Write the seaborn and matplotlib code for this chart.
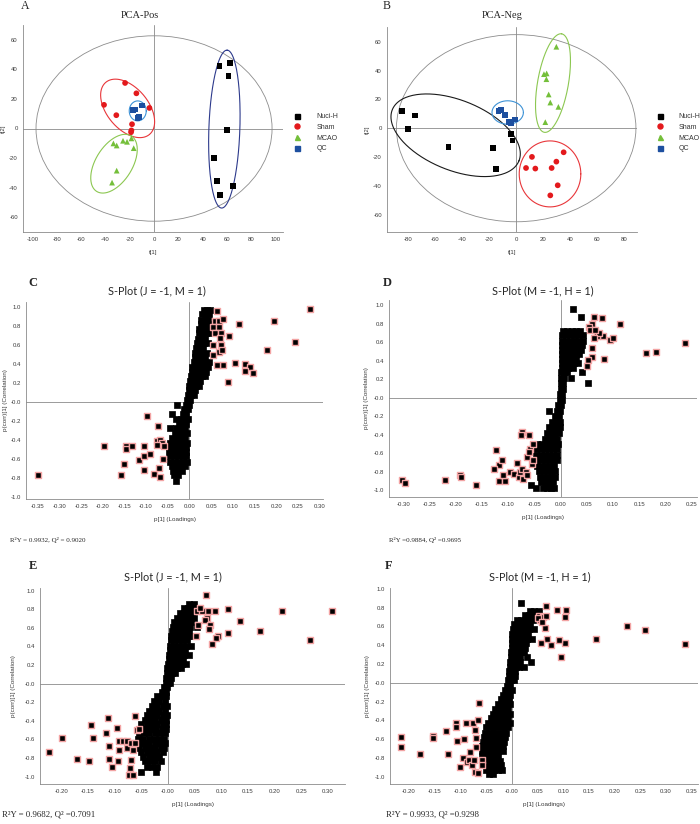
import numpy as np
import pandas as pd
import matplotlib
matplotlib.use("Agg")
import matplotlib.pyplot as plt
import seaborn as sns
from matplotlib import font_manager
from matplotlib.lines import Line2D
from matplotlib.patches import Ellipse
from matplotlib.ticker import MultipleLocator, AutoMinorLocator, FuncFormatter

# ---------------------------------------------------------------
# PCA score data (t[1], t[2])
# ---------------------------------------------------------------
groups = ["Nuci-H", "Sham", "MCAO", "QC"]
group_colors = ["#000000", "#e3191c", "#74bf3a", "#1d4f9f"]
group_markers = ["s", "o", "^", "s"]

pos_nuci_t1 = [53.7, 62.5, 61.1, 60.0, 49.3, 52.0, 64.7, 54.2]
pos_nuci_t2 = [42.2, 44.5, 35.5, -0.9, -20.0, -35.7, -38.7, -45.2]
pos_sham_t1 = [-23.8, -14.5, -41.1, -3.8, -31.0, -18.1, -18.6, -18.9]
pos_sham_t2 = [30.8, 23.8, 16.0, 13.9, 9.0, 2.9, -1.3, -2.5]
pos_mcao_t1 = [-33.4, -30.7, -25.5, -22.2, -18.6, -16.7, -30.7, -34.5]
pos_mcao_t2 = [-10.1, -11.5, -8.3, -9.0, -6.7, -13.3, -28.5, -36.6]
pos_qc_t1 = [-17.5, -15.9, -10.1, -13.7, -12.3]
pos_qc_t2 = [12.4, 12.8, 15.5, 7.2, 7.6]

neg_nuci_t1 = [-84.9, -75.3, -80.0, -50.1, -17.2, -15.0, -4.1, -2.8]
neg_nuci_t2 = [12.0, 8.8, -0.7, -13.2, -13.7, -28.5, -4.2, -8.6]
neg_sham_t1 = [11.7, 35.2, 7.3, 14.2, 26.3, 29.8, 30.8, 25.3]
neg_sham_t2 = [-19.9, -16.7, -27.6, -28.0, -27.6, -23.2, -39.6, -46.6]
neg_mcao_t1 = [29.8, 20.6, 22.6, 22.4, 24.1, 25.3, 31.3, 21.6]
neg_mcao_t2 = [56.5, 37.5, 38.0, 34.0, 23.4, 17.8, 14.8, 4.2]
neg_qc_t1 = [-13.2, -11.5, -8.5, -5.1, -3.6, -1.1]
neg_qc_t2 = [11.8, 12.5, 9.3, 4.2, 3.7, 6.0]

# ---------------------------------------------------------------
# S-plot data: core rows are (p(corr), p1, p1, ...), VIP = pink framed
# ---------------------------------------------------------------
c_core_rows = [
    (0.97, 0.033, 0.041, 0.047), (0.925, 0.030, 0.037, 0.045), (0.87, 0.027, 0.036, 0.043),
    (0.825, 0.026, 0.033, 0.042), (0.77, 0.023, 0.032, 0.040), (0.725, 0.022, 0.029, 0.038, 0.046),
    (0.67, 0.019, 0.028, 0.036), (0.625, 0.018, 0.025, 0.034, 0.042), (0.57, 0.016, 0.024, 0.031),
    (0.52, 0.013, 0.022, 0.030, 0.040), (0.475, 0.012, 0.019, 0.028, 0.036),
    (0.42, 0.010, 0.018, 0.025, 0.034, 0.045), (0.375, 0.007, 0.016, 0.024, 0.031, 0.042),
    (0.32, 0.006, 0.013, 0.022, 0.030, 0.039), (0.27, 0.004, 0.012, 0.019, 0.028, 0.036),
    (0.225, 0.002, 0.010, 0.018, 0.025), (0.17, 0.000, 0.007, 0.016, 0.023),
    (0.125, -0.002, 0.006, 0.013), (0.07, -0.004, 0.004, 0.010), (0.025, -0.006, 0.002),
    (-0.03, -0.008, 0.000, -0.028), (-0.075, -0.012, -0.004), (-0.13, -0.016, -0.008, -0.040),
    (-0.175, -0.020, -0.012, -0.004, -0.032), (-0.23, -0.024, -0.016, -0.008),
    (-0.275, -0.030, -0.020, -0.010, -0.045), (-0.33, -0.034, -0.024, -0.014, -0.006),
    (-0.375, -0.040, -0.030, -0.020, -0.010), (-0.43, -0.044, -0.034, -0.024, -0.014, -0.006),
    (-0.475, -0.047, -0.036, -0.026, -0.016, -0.008), (-0.53, -0.048, -0.038, -0.028, -0.018, -0.008),
    (-0.575, -0.046, -0.036, -0.026, -0.016, -0.008), (-0.63, -0.044, -0.034, -0.024, -0.014, -0.006),
    (-0.675, -0.040, -0.030, -0.020, -0.010), (-0.73, -0.038, -0.028, -0.018),
    (-0.775, -0.036, -0.026), (-0.83, -0.032),
]
c_vip_x = [0.278, 0.195, 0.115, 0.243, 0.178, 0.092, 0.104, 0.078, 0.128, 0.139, 0.128, 0.147, 0.090, 0.064,
           0.063, 0.058, 0.067, 0.077, 0.055, 0.067, 0.059, 0.072, 0.071, 0.055, 0.072, 0.067, 0.055, 0.074,
           -0.349, -0.196, -0.146, -0.146, -0.133, -0.150, -0.158, -0.117, -0.105, -0.105, -0.092, -0.105,
           -0.097, -0.073, -0.081, -0.070, -0.067, -0.076, -0.069, -0.064, -0.075, -0.060, -0.058]
c_vip_y = [0.982, 0.859, 0.820, 0.631, 0.550, 0.698, 0.410, 0.395, 0.399, 0.374, 0.332, 0.304, 0.209, 0.395,
           0.965, 0.859, 0.859, 0.873, 0.796, 0.789, 0.726, 0.726, 0.673, 0.603, 0.603, 0.533, 0.498, 0.550,
           -0.775, -0.459, -0.462, -0.494, -0.469, -0.652, -0.775, -0.610, -0.469, -0.568, -0.550, -0.716,
           -0.146, -0.258, -0.761, -0.698, -0.793, -0.416, -0.399, -0.434, -0.452, -0.603, -0.469]

d_core_rows = [
    (0.96, 0.023), (0.87, 0.038), (0.72, 0.005, 0.013, 0.021, 0.029, 0.037),
    (0.675, 0.003, 0.011, 0.019, 0.027, 0.035, 0.043), (0.62, 0.002, 0.010, 0.018, 0.026, 0.034, 0.042),
    (0.575, 0.002, 0.009, 0.016, 0.024, 0.032, 0.040), (0.52, 0.002, 0.008, 0.015, 0.022, 0.030, 0.038),
    (0.475, 0.002, 0.008, 0.014, 0.021, 0.029, 0.036), (0.42, 0.002, 0.008, 0.014, 0.022, 0.030),
    (0.375, 0.002, 0.008, 0.016, 0.026, 0.034), (0.32, 0.002, 0.008, 0.015, 0.024),
    (0.275, 0.001, 0.007, 0.013, 0.040), (0.22, 0.001, 0.006, 0.020), (0.16, 0.001, 0.005, 0.052),
    (0.10, 0.000, 0.004), (0.04, -0.001, 0.003), (-0.02, -0.002, 0.002), (-0.08, -0.004, 0.000),
    (-0.14, -0.006, -0.001, -0.022), (-0.20, -0.010, -0.003), (-0.26, -0.016, -0.008, -0.002),
    (-0.32, -0.022, -0.014, -0.006, -0.001), (-0.38, -0.026, -0.018, -0.010, -0.003),
    (-0.44, -0.030, -0.022, -0.014, -0.006),
    (-0.50, -0.044, -0.036, -0.028, -0.020, -0.012, -0.005),
    (-0.555, -0.046, -0.038, -0.030, -0.022, -0.014, -0.006),
    (-0.62, -0.046, -0.038, -0.030, -0.022, -0.014, -0.006),
    (-0.675, -0.046, -0.038, -0.030, -0.022, -0.014, -0.007),
    (-0.74, -0.044, -0.036, -0.028, -0.020, -0.012), (-0.795, -0.042, -0.034, -0.026, -0.018, -0.010),
    (-0.86, -0.040, -0.032, -0.024, -0.016, -0.010), (-0.915, -0.038, -0.030, -0.022, -0.014),
    (-0.97, -0.047, -0.034, -0.026, -0.018, -0.012), (-0.946, -0.057),
]
d_vip_x = [0.064, 0.079, 0.113, 0.238, 0.163, 0.182, 0.082, 0.095, 0.099, 0.080, 0.069, 0.073, 0.060, 0.054,
           0.057, 0.063, 0.060, 0.059, 0.052, 0.050, 0.066,
           -0.303, -0.296, -0.221, -0.192, -0.189, -0.161, -0.124, -0.118, -0.127, -0.112, -0.118, -0.106,
           -0.110, -0.097, -0.089, -0.083, -0.080, -0.077, -0.074, -0.071, -0.066, -0.064, -0.073, -0.075,
           -0.060, -0.064, -0.058, -0.055, -0.052, -0.053, -0.061]
d_vip_y = [0.870, 0.859, 0.798, 0.596, 0.480, 0.495, 0.419, 0.625, 0.643, 0.668, 0.668, 0.697, 0.794, 0.769,
           0.733, 0.643, 0.534, 0.444, 0.408, 0.343, 0.733,
           -0.884, -0.917, -0.884, -0.838, -0.856, -0.939, -0.567, -0.729, -0.773, -0.668, -0.899, -0.899,
           -0.838, -0.801, -0.819, -0.700, -0.856, -0.801, -0.773, -0.874, -0.801, -0.838, -0.368, -0.404,
           -0.404, -0.639, -0.549, -0.711, -0.675, -0.495, -0.585]

e_core_rows = [
    (0.86, 0.040, 0.048), (0.81, 0.030, 0.038, 0.046, 0.052), (0.765, 0.022, 0.030, 0.038, 0.046),
    (0.71, 0.016, 0.024, 0.032, 0.040, 0.048), (0.665, 0.012, 0.020, 0.028, 0.036, 0.044),
    (0.61, 0.010, 0.018, 0.026, 0.034, 0.042, 0.055), (0.565, 0.008, 0.016, 0.024, 0.032, 0.040),
    (0.51, 0.006, 0.014, 0.022, 0.030, 0.038, 0.048), (0.465, 0.005, 0.012, 0.020, 0.028, 0.036),
    (0.41, 0.004, 0.011, 0.018, 0.026, 0.034, 0.044), (0.365, 0.003, 0.010, 0.017, 0.024, 0.032),
    (0.31, 0.002, 0.009, 0.016, 0.022, 0.030, 0.040), (0.265, 0.001, 0.008, 0.014, 0.020, 0.028),
    (0.21, 0.000, 0.006, 0.012, 0.018, 0.026, 0.034), (0.165, -0.001, 0.005, 0.010, 0.016, 0.024),
    (0.11, -0.002, 0.003, 0.008, 0.014), (0.065, -0.003, 0.002, 0.006), (0.01, -0.004, 0.000, 0.004),
    (-0.035, -0.008, -0.002), (-0.09, -0.012, -0.004), (-0.135, -0.020, -0.012, -0.004),
    (-0.19, -0.026, -0.016, -0.006), (-0.235, -0.030, -0.020, -0.010, -0.002),
    (-0.29, -0.036, -0.026, -0.016, -0.006), (-0.335, -0.040, -0.030, -0.020, -0.010, -0.002),
    (-0.39, -0.044, -0.034, -0.024, -0.014, -0.004),
    (-0.435, -0.050, -0.040, -0.030, -0.020, -0.010, -0.003),
    (-0.49, -0.052, -0.042, -0.032, -0.022, -0.012, -0.004),
    (-0.535, -0.055, -0.045, -0.035, -0.025, -0.015, -0.006),
    (-0.59, -0.056, -0.046, -0.036, -0.026, -0.016, -0.007),
    (-0.635, -0.055, -0.045, -0.035, -0.025, -0.015, -0.006),
    (-0.69, -0.054, -0.044, -0.034, -0.024, -0.014, -0.007),
    (-0.735, -0.050, -0.040, -0.030, -0.020, -0.010), (-0.79, -0.046, -0.036, -0.026, -0.016),
    (-0.835, -0.044, -0.034, -0.024, -0.014), (-0.90, -0.040, -0.030, -0.020), (-0.95, -0.050, -0.022),
]
e_vip_x = [0.071, 0.088, 0.112, 0.213, 0.307, 0.135, 0.1725, 0.112, 0.266, 0.094, 0.090, 0.083, 0.076,
           0.0725, 0.069, 0.079, 0.0775, 0.054, 0.063, 0.057, 0.0525, 0.060,
           -0.223, -0.199, -0.171, -0.1475, -0.145, -0.140, -0.113, -0.116, -0.110, -0.110, -0.105, -0.096,
           -0.0925, -0.0925, -0.093, -0.085, -0.076, -0.076, -0.070, -0.0725, -0.065, -0.070, -0.062,
           -0.059, -0.055, -0.062, -0.066, -0.071]
e_vip_y = [0.957, 0.777, 0.806, 0.784, 0.784, 0.670, 0.562, 0.544, 0.472, 0.508, 0.490, 0.429, 0.784,
           0.706, 0.688, 0.634, 0.587, 0.777, 0.777, 0.634, 0.515, 0.813,
           -0.731, -0.587, -0.814, -0.831, -0.440, -0.587, -0.365, -0.526, -0.670, -0.814, -0.893, -0.479,
           -0.616, -0.713, -0.828, -0.613, -0.613, -0.695, -0.641, -0.982, -0.982, -0.820, -0.347,
           -0.497, -0.490, -0.641, -0.713, -0.910]

f_core_rows = [
    (0.85, 0.017), (0.77, 0.036, 0.044, 0.052), (0.725, 0.026, 0.034, 0.042, 0.050),
    (0.67, 0.010, 0.018, 0.026, 0.034, 0.042), (0.625, 0.004, 0.012, 0.020, 0.028, 0.036),
    (0.57, 0.002, 0.010, 0.018, 0.026, 0.034, 0.044), (0.525, 0.001, 0.008, 0.016, 0.024, 0.032),
    (0.47, 0.001, 0.007, 0.014, 0.022, 0.030, 0.040), (0.425, 0.000, 0.006, 0.013, 0.020, 0.028),
    (0.37, 0.000, 0.006, 0.012, 0.018, 0.026), (0.325, -0.001, 0.005, 0.011, 0.017, 0.024),
    (0.27, -0.002, 0.004, 0.010, 0.016, 0.030), (0.225, -0.003, 0.003, 0.009, 0.015, 0.038),
    (0.17, -0.004, 0.002, 0.008, 0.014, 0.024), (0.125, -0.005, 0.001, 0.007),
    (0.07, -0.006, 0.000, 0.006), (0.025, -0.007, -0.001, 0.004), (-0.03, -0.010, -0.003),
    (-0.075, -0.014, -0.006, 0.000), (-0.13, -0.018, -0.010, -0.003), (-0.175, -0.022, -0.014, -0.006),
    (-0.23, -0.026, -0.018, -0.010, -0.003), (-0.275, -0.032, -0.024, -0.016, -0.008),
    (-0.33, -0.036, -0.028, -0.020, -0.012, -0.004), (-0.375, -0.040, -0.032, -0.024, -0.016, -0.008),
    (-0.43, -0.046, -0.036, -0.028, -0.020, -0.012, -0.004),
    (-0.475, -0.050, -0.040, -0.032, -0.024, -0.016, -0.008),
    (-0.53, -0.052, -0.044, -0.036, -0.028, -0.020, -0.012),
    (-0.575, -0.054, -0.046, -0.038, -0.030, -0.022, -0.014),
    (-0.63, -0.056, -0.048, -0.040, -0.032, -0.024, -0.016),
    (-0.675, -0.058, -0.050, -0.042, -0.034, -0.026, -0.018),
    (-0.73, -0.058, -0.050, -0.042, -0.034, -0.026, -0.018),
    (-0.775, -0.058, -0.050, -0.042, -0.034, -0.026), (-0.83, -0.056, -0.048, -0.040, -0.032, -0.024),
    (-0.875, -0.054, -0.046, -0.038, -0.030, -0.022), (-0.93, -0.050, -0.042, -0.034, -0.026, -0.020),
    (-0.97, -0.044, -0.036),
]
f_vip_x = [0.066, 0.087, 0.105, 0.103, 0.223, 0.258, 0.337, 0.163, 0.103, 0.091, 0.077, 0.069, 0.056, 0.095,
           0.064, 0.054, 0.058, 0.053, 0.061, 0.051, 0.067, 0.059,
           -0.215, -0.215, -0.179, -0.154, -0.153, -0.128, -0.125, -0.109, -0.109, -0.106, -0.100, -0.093,
           -0.089, -0.095, -0.087, -0.083, -0.078, -0.074, -0.075, -0.072, -0.070, -0.069, -0.072, -0.065,
           -0.065, -0.064, -0.082, -0.059, -0.059]
f_vip_y = [0.815, 0.772, 0.772, 0.701, 0.601, 0.566, 0.416, 0.466, 0.423, 0.452, 0.406, 0.466, 0.423, 0.274,
           0.584, 0.673, 0.701, 0.715, 0.701, 0.690, 0.715, 0.644,
           -0.573, -0.680, -0.758, -0.562, -0.591, -0.509, -0.758, -0.431, -0.466, -0.616, -0.900, -0.601,
           -0.431, -0.804, -0.840, -0.822, -0.875, -0.822, -0.431, -0.502, -0.591, -0.680, -0.947, -0.957,
           -0.395, -0.217, -0.733, -0.822, -0.875]

# ---------------------------------------------------------------
# fonts / style
# ---------------------------------------------------------------
sns.set_style("white")
installed = {f.name for f in font_manager.fontManager.ttflist}
TICK_FONT = "Liberation Sans Narrow" if "Liberation Sans Narrow" in installed else "Liberation Sans"
SERIF = "Liberation Serif"
TITLE_FONT = "Lato" if "Lato" in installed else "DejaVu Sans"
plt.rcParams["font.family"] = [TICK_FONT, "DejaVu Sans"]
plt.rcParams["axes.unicode_minus"] = False

W, H = 700, 824
fig = plt.figure(figsize=(W / 100, H / 100), dpi=100)


def px_axes(left, top, right, bottom):
    # axes box given in figure pixels (y from the top)
    return fig.add_axes([left / W, 1 - bottom / H, (right - left) / W, (bottom - top) / H])


def fig_text(x, y, s, **kw):
    fig.text(x / W, 1 - y / H, s, **kw)


def style_axes(ax):
    for side in ["top", "right"]:
        ax.spines[side].set_visible(False)
    for side in ["left", "bottom"]:
        ax.spines[side].set_color("#8a8a8a")
        ax.spines[side].set_linewidth(0.6)
    ax.tick_params(which="both", colors="#8a8a8a", labelcolor="#3a3a3a", labelsize=4.3,
                   width=0.5, length=2.2, pad=1.5, direction="out")
    ax.tick_params(which="minor", length=1.3)
    ax.axhline(0, color="#9a9a9a", lw=0.7, zorder=0)
    ax.axvline(0, color="#9a9a9a", lw=0.7, zorder=0)


def screen_ellipse(ax, cx, cy, a_px, b_px, angle, color, lw=0.8):
    # ellipse drawn with semi-axes in screen pixels around a data centre
    t = np.linspace(0, 2 * np.pi, 240)
    th = np.deg2rad(angle)
    px = a_px * np.cos(t) * np.cos(th) - b_px * np.sin(t) * np.sin(th)
    py = a_px * np.cos(t) * np.sin(th) + b_px * np.sin(t) * np.cos(th)
    c = ax.transData.transform((cx, cy))
    pts = ax.transData.inverted().transform(np.column_stack([c[0] + px, c[1] + py]))
    ax.plot(pts[:, 0], pts[:, 1], color=color, lw=lw, zorder=1)


# ---------------------------------------------------------------
# PCA score plots
# ---------------------------------------------------------------
def pca_frame(t1_lists, t2_lists):
    rows = []
    for g, xs, ys in zip(groups, t1_lists, t2_lists):
        rows += [(g, x, y) for x, y in zip(xs, ys)]
    return pd.DataFrame(rows, columns=["group", "t1", "t2"])


def draw_pca(ax, df, xlim, ylim, hotelling, ellipses):
    ax.set_xlim(*xlim)
    ax.set_ylim(*ylim)
    style_axes(ax)
    ax.add_patch(Ellipse((0, 0), 2 * hotelling[0], 2 * hotelling[1], fill=False,
                         edgecolor="#8c8c8c", lw=0.6, zorder=1))
    for e in ellipses:
        screen_ellipse(ax, *e)
    sns.scatterplot(data=df, x="t1", y="t2", hue="group", style="group", ax=ax,
                    palette=dict(zip(groups, group_colors)),
                    markers=dict(zip(groups, group_markers)),
                    s=17, linewidth=0, legend=False, zorder=3)
    ax.xaxis.set_major_locator(MultipleLocator(20))
    ax.yaxis.set_major_locator(MultipleLocator(20))
    ax.xaxis.set_minor_locator(AutoMinorLocator(2))
    ax.yaxis.set_minor_locator(AutoMinorLocator(2))
    ax.set_xlabel("t[1]", fontsize=4.3, labelpad=6, color="#3a3a3a")
    ax.set_ylabel("t[2]", fontsize=4.3, labelpad=2, color="#3a3a3a")


def pca_legend(x, y):
    handles = [Line2D([], [], ls="", marker=m, color=c, markersize=3.6)
               for m, c in zip(group_markers, group_colors)]
    fig.legend(handles, groups, loc="upper left", bbox_to_anchor=(x / W, 1 - y / H),
               frameon=False, fontsize=5, handlelength=1.0, handletextpad=2.2,
               labelspacing=0.55, borderpad=0, borderaxespad=0, labelcolor="#333333")


axA = px_axes(23, 25, 283, 232)
dfA = pca_frame([pos_nuci_t1, pos_sham_t1, pos_mcao_t1, pos_qc_t1],
                [pos_nuci_t2, pos_sham_t2, pos_mcao_t2, pos_qc_t2])
draw_pca(axA, dfA, (-107.7, 106), (-70, 70), (97, 62.7), [
    (-21.7, 13.6, 34, 20.7, -50, "#e8363a"),
    (-13.4, 11.9, 8.5, 10, 0, "#3d92d6"),
    (-32.9, -23.8, 32.7, 18.3, 58, "#8cc751"),
    (57.8, -0.4, 79, 15.5, 88, "#2d3a8c"),
])
pca_legend(294, 113)

axB = px_axes(387, 27, 637, 232)
dfB = pca_frame([neg_nuci_t1, neg_sham_t1, neg_mcao_t1, neg_qc_t1],
                [neg_nuci_t2, neg_sham_t2, neg_mcao_t2, neg_qc_t2])
draw_pca(axB, dfB, (-95.8, 89.6), (-72, 70.2), (88.8, 64.9), [
    (-44.9, -4.9, 68.3, 35, -22, "#1a1a1a"),
    (-6.3, 10.9, 15.7, 11.7, 0, "#3d92d6"),
    (27.3, 31.3, 50, 15.4, 80, "#8cc751"),
    (25.1, -31.7, 30.8, 33, 0, "#e8363a"),
])
pca_legend(656.5, 113)

fig_text(140, 15, "PCA-Pos", family=SERIF, fontsize=7.5, ha="center", va="center")
fig_text(502, 15, "PCA-Neg", family=SERIF, fontsize=7.5, ha="center", va="center")
fig_text(25, 6, "A", family=SERIF, fontsize=8.5, ha="center", va="center")
fig_text(387, 6, "B", family=SERIF, fontsize=8.5, ha="center", va="center")


# ---------------------------------------------------------------
# S-plots
# ---------------------------------------------------------------
def draw_splot(ax, core_rows, vip_x, vip_y, xlim, ylim, xzero, ylabelpad):
    core = pd.DataFrame([(x, r[0]) for r in core_rows for x in r[1:]], columns=["p1", "pcorr"])
    vip = pd.DataFrame({"p1": vip_x, "pcorr": vip_y})
    ax.set_xlim(*xlim)
    ax.set_ylim(*ylim)
    style_axes(ax)
    sns.scatterplot(data=core, x="p1", y="pcorr", ax=ax, marker="s", s=16, color="black",
                    edgecolor="black", linewidth=0.5, legend=False, zorder=3)
    sns.scatterplot(data=vip, x="p1", y="pcorr", ax=ax, marker="s", s=14, color="black",
                    edgecolor="#f2a3a3", linewidth=1.0, legend=False, zorder=4)
    ax.xaxis.set_major_locator(MultipleLocator(0.05))
    ax.yaxis.set_major_locator(MultipleLocator(0.2))
    ax.xaxis.set_minor_locator(AutoMinorLocator(2))
    ax.yaxis.set_minor_locator(AutoMinorLocator(2))
    ax.xaxis.set_major_formatter(FuncFormatter(lambda v, p: xzero if abs(v) < 1e-9 else f"{v:.2f}"))
    ax.yaxis.set_major_formatter(FuncFormatter(lambda v, p: "-0.0" if abs(v) < 1e-9 else f"{v:.1f}"))
    ax.set_xlabel("p[1] (Loadings)", fontsize=4.5, labelpad=6, color="#3a3a3a")
    ax.set_ylabel("p(corr)[1] (Correlation)", fontsize=4.5, labelpad=ylabelpad, color="#3a3a3a")


axC = px_axes(26, 301.7, 323, 499)
draw_splot(axC, c_core_rows, c_vip_x, c_vip_y, (-0.377, 0.308), (-1.024, 1.06), "0.00", 2)
axD = px_axes(389, 300, 697, 497)
draw_splot(axD, d_core_rows, d_vip_x, d_vip_y, (-0.327, 0.26), (-1.072, 1.058), "0.00", 3)
axE = px_axes(40, 588, 345, 784)
draw_splot(axE, e_core_rows, e_vip_x, e_vip_y, (-0.24, 0.332), (-1.079, 1.029), "-0.00", 6)
axF = px_axes(390, 588, 698, 784)
draw_splot(axF, f_core_rows, f_vip_x, f_vip_y, (-0.237, 0.362), (-1.078, 1.01), "-0.00", 3)

fig_text(157, 291, "S-Plot (J = -1, M = 1)", family=TITLE_FONT, fontsize=7.8, ha="center", va="center")
fig_text(543, 291, "S-Plot (M = -1, H = 1)", family=TITLE_FONT, fontsize=7.8, ha="center", va="center")
fig_text(173, 577, "S-Plot (J = -1, M = 1)", family=TITLE_FONT, fontsize=7.8, ha="center", va="center")
fig_text(540, 577, "S-Plot (M = -1, H = 1)", family=TITLE_FONT, fontsize=7.8, ha="center", va="center")
for x, y, s in [(33, 283, "C"), (387, 283, "D"), (33, 566, "E"), (389, 566, "F")]:
    fig_text(x, y, s, family=SERIF, fontsize=9, weight="bold", ha="center", va="center")

fig_text(10, 540, "R\u00b2Y = 0.9932, Q\u00b2 = 0.9020", family=SERIF, fontsize=5, va="center")
fig_text(389, 540, "R\u00b2Y =0.9884, Q\u00b2 =0.9695", family=SERIF, fontsize=5, va="center")
fig_text(2, 814, "R\u00b2Y = 0.9682, Q\u00b2 =0.7091", family=SERIF, fontsize=6.3, va="center")
fig_text(386, 814, "R\u00b2Y = 0.9933, Q\u00b2 =0.9298", family=SERIF, fontsize=6.3, va="center")

fig.savefig("out.png", dpi=100)
